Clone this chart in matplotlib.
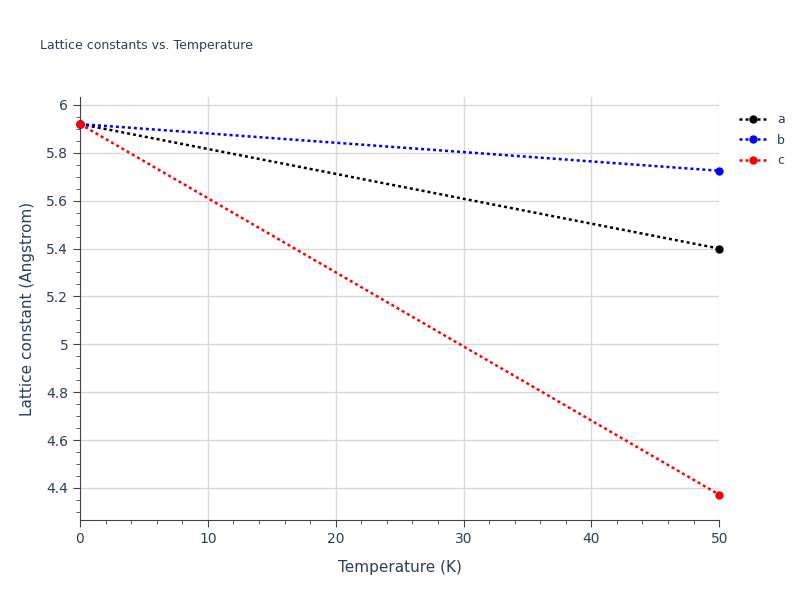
import matplotlib
matplotlib.use("Agg")
import matplotlib.pyplot as plt
from matplotlib.ticker import MultipleLocator, FuncFormatter
from matplotlib.lines import Line2D

temps = [0, 50]
a_vals = [5.92, 5.40]
b_vals = [5.92, 5.725]
c_vals = [5.92, 4.372]
names = ["a", "b", "c"]
colors = ["black", "blue", "red"]

fig = plt.figure(figsize=(8, 6), dpi=100)
ax = fig.add_axes([0.1, 0.1333, 0.799, 0.705])
for vals, n, c in zip([a_vals, b_vals, c_vals], names, colors):
    ax.plot(temps, vals, linestyle=(0, (1.2, 1.2)), color=c, lw=1.8,
            marker="o", ms=5, label=n, clip_on=False, zorder=3)
ax.set_xlim(0, 50)
ax.set_ylim(4.266, 6.033)
ax.xaxis.set_major_locator(MultipleLocator(10))
ax.xaxis.set_minor_locator(MultipleLocator(2))
ax.yaxis.set_major_locator(MultipleLocator(0.2))
ax.yaxis.set_minor_locator(MultipleLocator(0.05))
ax.grid(True, which="major", color="#d9d9d9", lw=1)
ax.set_axisbelow(True)
for s in ["top", "right"]:
    ax.spines[s].set_visible(False)
for s in ["left", "bottom"]:
    ax.spines[s].set_color("#444444")
ax.tick_params(which="major", length=5, color="#444444", labelcolor="#2a3f5f", labelsize=10)
ax.tick_params(which="minor", length=3, color="#444444")
ax.xaxis.set_major_formatter(FuncFormatter(lambda v, p: f"{v:g}"))
ax.yaxis.set_major_formatter(FuncFormatter(lambda v, p: f"{round(v, 1):g}"))
ax.set_xlabel("Temperature (K)", fontsize=11, color="#2a3f5f", labelpad=10)
ax.set_ylabel("Lattice constant (Angstrom)", fontsize=11, color="#2a3f5f", labelpad=8)
fig.text(0.05, 0.925, "Lattice constants vs. Temperature", fontsize=9, color="#2a3f5f", va="center")
handles = [Line2D([0], [0], color=c, ls=(0, (1.2, 1.2)), lw=1.8, marker="o", ms=5) for c in colors]
fig.legend(handles, names, loc="upper left", bbox_to_anchor=(0.91, 0.83), frameon=False,
           fontsize=9, labelcolor="#2a3f5f", handlelength=2.2, labelspacing=0.6)
fig.savefig("out.png", dpi=100)
